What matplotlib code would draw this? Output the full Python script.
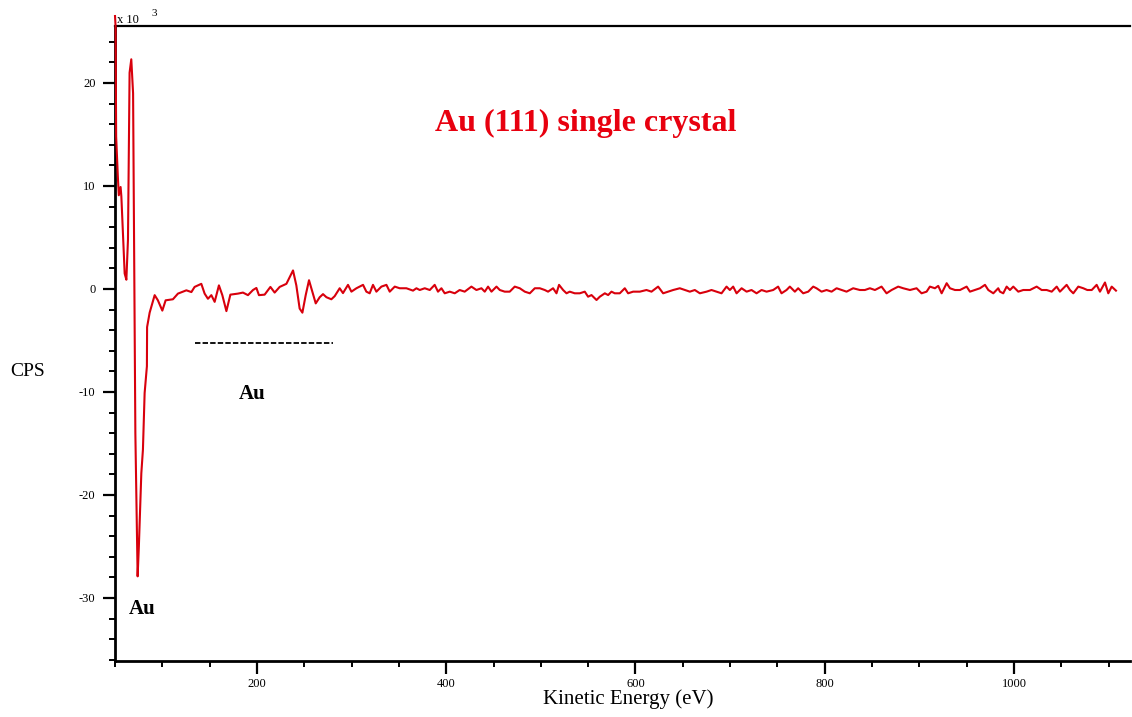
import matplotlib
matplotlib.use('Agg')
import matplotlib.pyplot as plt
from matplotlib.ticker import MultipleLocator
import numpy as np

plt.rcParams['font.family'] = ['Liberation Serif', 'DejaVu Serif']
plt.rcParams['axes.unicode_minus'] = False

# kinetic energy (eV) and counts (x10^3 CPS)
energy = [50, 50.6, 51.2, 53, 54, 55.9, 56.7, 58.4, 60.2, 62, 63.7, 65.4, 67.2, 69.1,
          71.5, 73.9, 75.2, 77.8, 79.5, 81.3, 83.7, 83.9, 86.6, 90, 91.9, 95.3, 100,
          103.5, 111.2, 116.5, 125.4, 130.7, 134.1, 141.2, 144.7, 148.2, 151.8, 155.3,
          159.8, 163.4, 167.7, 171.9, 179.9, 185.2, 190.5, 195.8, 199.4, 202.1, 208.1,
          214.2, 218.7, 224, 231.1, 238.1, 241.6, 245.1, 248, 251.5, 255, 258.6, 262.1,
          266.3, 269.8, 273.4, 278.6, 282.1, 287.4, 290.9, 296.2, 299.8, 305.1, 312.1,
          315.6, 319.1, 322.6, 326.2, 331.5, 336.8, 340.3, 345.6, 350.8, 357.9, 364.9,
          368.5, 372, 377.3, 382.6, 387.8, 391.3, 394.9, 398.4, 403.7, 409, 414.2,
          419.5, 426.6, 431.9, 437.2, 440.7, 444.2, 447.8, 453.1, 456.6,
          461.8, 467.1, 472.4, 477.7, 483, 488.3, 493.6, 498.9, 504.1, 507.6, 512.9,
          516.5, 519.2, 523.5, 527.1, 530.5, 535.8, 541.1, 546.4, 549.9, 553.5, 558.8,
          562.3, 567.6, 571.1, 574.6, 578.1, 583.4, 588.7, 592.2, 597.5, 604.6, 611.6,
          616.9, 623.9, 629.2, 634.5, 639.8, 646.8,
          652.1, 657.4, 662.7, 668, 675.1, 680.3, 685.6, 690.9, 696.2, 699.7, 703.2,
          706.8, 712.1, 717.4, 722.6, 727.9, 733.2, 738.5, 745.5, 750.7, 754.3, 759.6,
          763.1, 768.4, 771.9, 777.2, 782.5, 787.8, 791.3, 796.6, 801.9, 807.2, 812.5,
          817.8, 823, 830, 837.1,
          842.4, 847.7, 853, 860, 865.3, 870.6, 877.6, 882.9, 890, 897, 902.3, 907.6,
          911.1, 916.4, 919.9, 923.5, 928.8, 932.3, 937.6, 942.9, 949.9, 953.4, 958.7,
          964, 969.3, 972.8, 978.1, 983.3,
          985.1, 988.6, 992.2, 995.7, 999.2, 1004.5, 1009.7, 1016.8, 1023.9, 1029.2,
          1034.5, 1039.8, 1045.1, 1048.5, 1052, 1055.6, 1059.1, 1062.6, 1067.9, 1073.2,
          1077.4, 1082.1, 1087.3, 1090.8, 1096.1, 1099.6, 1103.2, 1107.7]

cps = [26.5, 25.5, 14.8, 10.9, 9.1, 9.9, 9.0, 5.4, 1.5, 0.9, 4.8, 21.0, 22.3, 19.0,
       -14.0, -27.9, -25.0, -17.9, -15.6, -10.1, -7.5, -3.7, -2.3, -1.2, -0.6, -1.1, -2.1,
       -1.1, -1.0, -0.45, -0.13, -0.3, 0.2, 0.5, -0.45, -0.95, -0.6, -1.25,
       0.35, -0.6, -2.15, -0.55, -0.45, -0.35, -0.6, -0.1, 0.1, -0.6, -0.55,
       0.2, -0.35, 0.2, 0.5, 1.8, 0.35, -1.9, -2.3, -0.6, 0.85, -0.3, -1.4,
       -0.8, -0.5, -0.8, -1.0, -0.7, 0.07, -0.4, 0.4, -0.26, 0.07, 0.4,
       -0.26, -0.42, 0.4, -0.26, 0.23, 0.4, -0.26, 0.23, 0.07, 0.07, -0.16,
       0.07, -0.1, 0.07, -0.1, 0.4, -0.26, 0.07, -0.42, -0.26, -0.42, -0.1,
       -0.26, 0.23, -0.1, 0.07, -0.26, 0.23, -0.26, 0.23, -0.1,
       -0.26, -0.26, 0.23, 0.07, -0.26, -0.42, 0.07, 0.07, -0.1, -0.26, 0.07,
       -0.42, 0.4, -0.1, -0.42, -0.26, -0.42, -0.42, -0.26, -0.75, -0.59, -1.07,
       -0.75, -0.42, -0.59, -0.26, -0.42, -0.42, 0.07, -0.42, -0.26, -0.26, -0.1,
       -0.26, 0.23, -0.42, -0.26, -0.1, 0.07,
       -0.1, -0.26, -0.1, -0.42, -0.26, -0.1, -0.26, -0.42, 0.23, -0.1, 0.23,
       -0.42, 0.07, -0.26, -0.1, -0.42, -0.1, -0.26, -0.1, 0.23, -0.42, -0.1,
       0.23, -0.26, 0.07, -0.42, -0.26, 0.23, 0.07, -0.26, -0.1, -0.26, 0.07,
       -0.1, -0.26, 0.07, -0.1,
       -0.1, 0.07, -0.1, 0.23, -0.42, -0.1, 0.23, 0.07, -0.1, 0.07, -0.42, -0.26,
       0.23, 0.07, 0.3, -0.42, 0.56, 0.07, -0.1, -0.1, 0.23, -0.26, -0.1,
       0.07, 0.4, -0.1, -0.42, 0.07,
       -0.26, -0.42, 0.23, -0.1, 0.23, -0.26, -0.1, -0.1, 0.23, -0.1,
       -0.1, -0.26, 0.23, -0.26, 0.07, 0.4, -0.1, -0.42, 0.23, 0.07,
       -0.1, -0.1, 0.4, -0.26, 0.63, -0.42, 0.23, -0.16]

xticks = [200, 400, 600, 800, 1000]
yticks = [-30, -20, -10, 0, 10, 20]

fig = plt.figure(figsize=(11.32, 7.17), dpi=100)
ax = fig.add_axes([0.1016, 0.0781, 0.8966, 0.8856])

ax.plot(energy, cps, color='#d8000c', lw=1.5, clip_on=False, zorder=3)

ax.set_xlim(50, 1122.5)
ax.set_ylim(-36.12, 25.53)
ax.set_xticks(xticks)
ax.set_yticks(yticks)
ax.xaxis.set_minor_locator(MultipleLocator(50))
ax.yaxis.set_minor_locator(MultipleLocator(2))

for s in ['left', 'bottom']:
    ax.spines[s].set_linewidth(2.0)
ax.spines['top'].set_linewidth(1.6)
ax.spines['right'].set_visible(False)

ax.tick_params(which='major', direction='out', length=9, width=1.6, labelsize=9, pad=3)
ax.tick_params(which='minor', direction='out', length=4.5, width=1.4)
ax.tick_params(axis='y', which='major', length=9, pad=5)

fig.text(28 / 1132, 1 - 372 / 717, 'CPS', fontsize=14, ha='center', va='center')
fig.text(628 / 1132, 1 - 699 / 717, 'Kinetic Energy (eV)', fontsize=15,
         ha='center', va='center')

fig.text(586 / 1132, 1 - 123 / 717, 'Au (111) single crystal', fontsize=23,
         fontweight='bold', color='#e8000f', ha='center', va='center')
fig.text(142 / 1132, 1 - 609 / 717, 'Au', fontsize=15, fontweight='bold',
         ha='center', va='center')
fig.text(252 / 1132, 1 - 394 / 717, 'Au', fontsize=15, fontweight='bold',
         ha='center', va='center')

# dashed marker under the second Au group
ax.plot([134, 280], [-5.24, -5.24], color='black', lw=1.3, dashes=(3, 1.2))

# axis multiplier
fig.text(117 / 1132, 1 - 20 / 717, 'x 10', fontsize=9, ha='left', va='center')
fig.text(152 / 1132, 1 - 13 / 717, '3', fontsize=8, ha='left', va='center')

fig.savefig('out.png', dpi=100)
